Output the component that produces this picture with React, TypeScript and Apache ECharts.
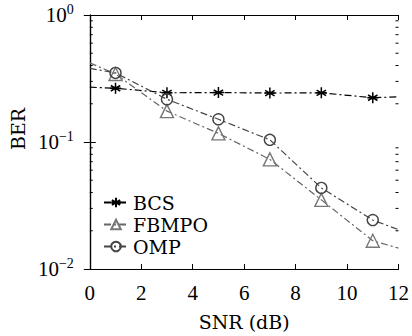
import React, { useEffect, useRef } from "react";
import * as echarts from "echarts";

const snr = [1, 3, 5, 7, 9, 11];
const bcs = [0.265, 0.244, 0.245, 0.243, 0.244, 0.223];
const fbmpo = [0.343, 0.175, 0.117, 0.073, 0.035, 0.0167];
const omp = [0.35, 0.217, 0.151, 0.104, 0.0435, 0.0243];
// line values at the plot edges (x = 0 and x = 12), drawn without markers
const edgeX = [0, 12];
const bcsEdge = [0.27, 0.227];
const fbmpoEdge = [0.42, 0.0146];
const ompEdge = [0.38, 0.0204];
const minorTickValues = [
  0.02, 0.03, 0.04, 0.05, 0.06, 0.07, 0.08, 0.09,
  0.2, 0.3, 0.4, 0.5, 0.6, 0.7, 0.8, 0.9,
];
const xTicks = { min: 0, max: 12, interval: 2 };
const yRange = { min: 0.01, max: 1 };

const TEXTFONT = "DejaVu Serif";
const NUMFONT = "Liberation Serif";

function buildSeries(vals: number[], edge: number[]) {
  const d: any[] = [{ value: [edgeX[0], edge[0]], symbol: "none" }];
  snr.forEach((x, i) => d.push([x, vals[i]]));
  d.push({ value: [edgeX[1], edge[1]], symbol: "none" });
  return d;
}

const asterisk =
  "path://M5,0L5,10M0.7,2.5L9.3,7.5M0.7,7.5L9.3,2.5M0,5L10,5";

export default function App() {
  const ref = useRef<HTMLDivElement>(null);
  useEffect(() => {
    if (!ref.current) return;
    const chart = echarts.init(ref.current, undefined, { renderer: "svg" });
    const dash = [7, 3, 2, 3];
    const axisLine = { show: true, lineStyle: { color: "#000", width: 1.2 } };
    chart.setOption({
      animation: false,
      backgroundColor: "#fff",
      textStyle: { fontFamily: NUMFONT },
      grid: { left: 89, right: 13, top: 15, bottom: 63, containLabel: false },
      legend: {
        orient: "vertical",
        left: 98,
        top: 188,
        itemGap: 3,
        itemWidth: 24,
        itemHeight: 12,
        data: ["BCS", "FBMPO", "OMP"],
        textStyle: { fontFamily: TEXTFONT, fontSize: 19, color: "#000" },
      },
      xAxis: [
        {
          type: "value",
          ...xTicks,
          axisLine,
          axisTick: { inside: true, length: 5, lineStyle: { color: "#000" } },
          axisLabel: { margin: 13, fontFamily: NUMFONT, fontSize: 21, color: "#000" },
          splitLine: { show: false },
          name: "SNR (dB)",
          nameLocation: "middle",
          nameGap: 43,
          nameTextStyle: { fontFamily: TEXTFONT, fontSize: 19, color: "#000" },
        },
        {
          type: "value",
          position: "top",
          ...xTicks,
          axisLine,
          axisTick: { inside: true, length: 5, lineStyle: { color: "#000" } },
          axisLabel: { show: false },
          splitLine: { show: false },
        },
      ],
      yAxis: [
        {
          type: "log",
          logBase: 10,
          ...yRange,
          axisLine,
          axisTick: { inside: true, length: 6, lineStyle: { color: "#000" } },
          axisLabel: {
            margin: 16,
            formatter: (v: number) => {
              const e = Math.round(Math.log10(v));
              const s = e < 0 ? "\u2212" + Math.abs(e) : String(e);
              return "{a|10}{b|" + s + "}";
            },
            rich: {
              a: { fontFamily: NUMFONT, fontSize: 21, color: "#000" },
              b: { fontFamily: NUMFONT, fontSize: 14, color: "#000", padding: [0, 0, 12, 0] },
            },
          },
          splitLine: { show: false },
          name: "BER",
          nameLocation: "middle",
          nameGap: 56,
          nameTextStyle: { fontFamily: TEXTFONT, fontSize: 19, color: "#000", padding: [0, 0, 0, 26] },
        },
        {
          type: "log",
          logBase: 10,
          position: "right",
          ...yRange,
          axisLine,
          axisTick: { inside: true, length: 6, lineStyle: { color: "#000" } },
          axisLabel: { show: false },
          splitLine: { show: false },
        },
      ],
      series: [
        {
          name: "BCS",
          type: "line",
          data: buildSeries(bcs, bcsEdge),
          symbol: asterisk,
          symbolSize: 11,
          color: "#000",
          itemStyle: { color: "none", borderColor: "#000", borderWidth: 1.5 },
          lineStyle: { color: "#000", width: 1.2, type: dash },
          z: 3,
        },
        {
          name: "FBMPO",
          type: "line",
          data: buildSeries(fbmpo, fbmpoEdge),
          symbol: "triangle",
          symbolSize: 13,
          color: "#777",
          itemStyle: { color: "rgba(255,255,255,0)", borderColor: "#777", borderWidth: 1.4 },
          lineStyle: { color: "#666", width: 1.2, type: dash },
        },
        {
          name: "OMP",
          type: "line",
          data: buildSeries(omp, ompEdge),
          symbol: "circle",
          symbolSize: 11,
          color: "#444",
          itemStyle: { color: "rgba(255,255,255,0)", borderColor: "#444", borderWidth: 1.4 },
          lineStyle: { color: "#444", width: 1.2, type: dash },
        },
        {
          name: "minor",
          type: "custom",
          silent: true,
          data: minorTickValues.map((v) => [0, v]),
          encode: { x: 0, y: 1 },
          renderItem: (_p: any, api: any) => {
            const v = api.value(1);
            const l = api.coord([xTicks.min, v]);
            const r = api.coord([xTicks.max, v]);
            return {
              type: "group",
              children: [
                { type: "line", shape: { x1: l[0], y1: l[1], x2: l[0] + 3, y2: l[1] }, style: { stroke: "#000", lineWidth: 1 } },
                { type: "line", shape: { x1: r[0], y1: r[1], x2: r[0] - 3, y2: r[1] }, style: { stroke: "#000", lineWidth: 1 } },
              ],
            };
          },
        },
      ],
    });
    return () => chart.dispose();
  }, []);
  return <div ref={ref} style={{ width: 412, height: 336, position: "absolute", left: 0, top: 0 }} />;
}
